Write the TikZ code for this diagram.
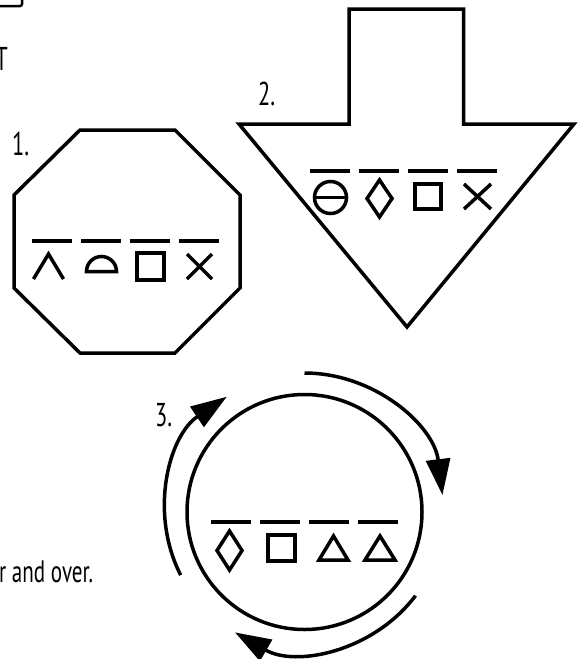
\documentclass[tikz,border=0pt]{standalone}
\usepackage{fontspec}
\setmainfont[FakeStretch=0.68]{PT Sans}
\usetikzlibrary{arrows.meta}
\begin{document}
\begin{tikzpicture}[x=1pt,y=-1pt,
  outline/.style={line width=3.5pt, line join=miter},
  bar/.style={line width=4pt},
  sym/.style={line width=3.5pt, line join=miter},
  ring/.style={line width=3.5pt, -{Triangle[length=36pt,width=24pt]}},
  lbl/.style={inner sep=0pt, font=\fontsize{33}{36}\selectfont},
  bodytext/.style={inner sep=0pt, font=\fontsize{31}{34}\selectfont}
]
\useasboundingbox (0,0) rectangle (579,659);

% partial frame corner at top left
\draw[line width=2.5pt, rounded corners=2pt] (-10,6) -- (22,6) -- (22,-10);

% cut-off texts
\node[lbl, anchor=base east] (tT) at (8,70) {T};
\node[bodytext, anchor=base west] (tover) at (-1,582) {r and over.};

% labels
\node[lbl, anchor=base west] (l1) at (12,155) {1.};
\node[lbl, anchor=base west] (l2) at (258,105) {2.};
\node[lbl, anchor=base west] (l3) at (155,426) {3.};

% ---------- 1. octagon ----------
\draw[outline] (80,130) -- (175,130) -- (240,195) -- (240,288) -- (175,353)
  -- (80,353) -- (14,288) -- (14,195) -- cycle;
\foreach \x in {52,101,149.5,199} \draw[bar] (\x-20,241) -- (\x+20,241);
\draw[sym] (33.5,279) -- (48.5,254) -- (63.5,279);
\draw[sym] (86.5,271.5) arc[start angle=180, end angle=360, radius=15] -- cycle;
\draw[sym] (137,253) rectangle (164,280);
\draw[sym] (187,254) -- (212,279) (187,279) -- (212,254);

% ---------- 2. down arrow ----------
\draw[outline] (349,9) -- (463.5,9) -- (463.5,124) -- (574,124) -- (407,327)
  -- (239,124) -- (349,124) -- cycle;
\foreach \x in {330,379,428,477} \draw[bar] (\x-20,171) -- (\x+20,171);
\draw[sym] (330.5,197.5) circle[radius=16];
\draw[sym] (314.5,197.5) -- (346.5,197.5);
\draw[sym] (367,198.5) -- (379.5,180) -- (392,198.5) -- (379.5,217) -- cycle;
\draw[sym] (415,184) rectangle (441,209);
\draw[sym] (464,184) -- (491,209) (464,209) -- (491,184);

% ---------- 3. cycle ----------
\coordinate (c) at (304.5,512);
\draw[outline] (c) circle[radius=117.5];
\draw[ring] (c) ++(-90:139) arc[start angle=-90, end angle=-7, radius=139];
\draw[ring] (c) ++(37:139) arc[start angle=37, end angle=120, radius=139];
\draw[ring] (c) ++(-207:139) arc[start angle=-207, end angle=-124, radius=139];
\foreach \x in {231,279.5,329,378} \draw[bar] (\x-20,522) -- (\x+20,522);
\draw[sym] (217,550.5) -- (229.5,531) -- (242,550.5) -- (229.5,570) -- cycle;
\draw[sym] (268,535) rectangle (295,561);
\draw[sym] (319,560) -- (348,560) -- (333.5,536) -- cycle;
\draw[sym] (365,560) -- (395,560) -- (380,536) -- cycle;
\end{tikzpicture}
\end{document}
